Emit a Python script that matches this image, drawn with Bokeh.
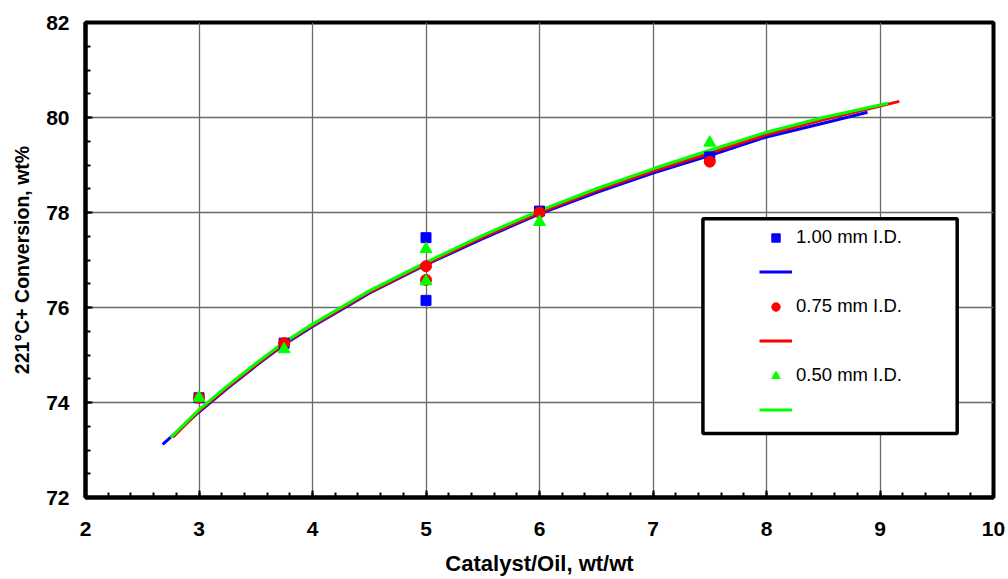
from bokeh.plotting import figure
from bokeh.models import (Range1d, SingleIntervalTicker, Legend, LegendItem,
                          BoxAnnotation)
from bokeh.embed import file_html
from bokeh.resources import INLINE

# ---- data ----
x_title = "Catalyst/Oil, wt/wt"
y_title = "221°C+ Conversion, wt%"

series_labels = ["1.00 mm I.D.", "0.75 mm I.D.", "0.50 mm I.D."]

# measured points
pts_100_x = [3.0, 3.75, 5.0, 5.0, 6.0, 7.5]
pts_100_y = [74.10, 75.25, 77.47, 76.15, 78.03, 79.17]
pts_075_x = [3.0, 3.75, 5.0, 5.0, 6.0, 7.5]
pts_075_y = [74.10, 75.25, 76.87, 76.58, 78.00, 79.07]
pts_050_x = [3.0, 3.75, 5.0, 5.0, 6.0, 7.5]
pts_050_y = [74.10, 75.12, 77.23, 76.55, 77.80, 79.47]

# fitted curves
fit_100_x = [2.68, 3.0, 3.25, 3.5, 3.75, 4.0, 4.25, 4.5, 5.0, 5.5, 6.0, 6.5, 7.0, 7.5, 8.0, 8.5, 8.89]
fit_100_y = [73.12, 73.80, 74.30, 74.77, 75.22, 75.60, 75.95, 76.30, 76.90, 77.45, 77.97, 78.42, 78.83, 79.20, 79.59, 79.88, 80.11]
fit_075_x = [2.77, 3.0, 3.25, 3.5, 3.75, 4.0, 4.25, 4.5, 5.0, 5.5, 6.0, 6.5, 7.0, 7.5, 8.0, 8.5, 9.0, 9.17]
fit_075_y = [73.27, 73.82, 74.32, 74.79, 75.24, 75.62, 75.97, 76.32, 76.92, 77.48, 78.00, 78.46, 78.87, 79.25, 79.64, 79.95, 80.24, 80.34]
fit_050_x = [2.75, 3.0, 3.25, 3.5, 3.75, 4.0, 4.25, 4.5, 5.0, 5.5, 6.0, 6.5, 7.0, 7.5, 8.0, 8.5, 9.07]
fit_050_y = [73.26, 73.85, 74.35, 74.82, 75.27, 75.65, 76.00, 76.35, 76.95, 77.52, 78.04, 78.50, 78.92, 79.31, 79.69, 80.00, 80.30]

x_min, x_max, x_step = 2, 10, 1
y_min, y_max, y_step = 72, 82, 2

# ---- styling ----
FONT = "Liberation Sans"
BLUE, RED, GREEN = "#0000FF", "#FF0000", "#00FF00"

p = figure(width=1008, height=579, output_backend="svg", toolbar_location=None,
           x_range=Range1d(x_min, x_max), y_range=Range1d(y_min, y_max),
           min_border_left=85, min_border_right=15, min_border_top=22,
           min_border_bottom=82)

p.background_fill_color = "white"
p.border_fill_color = "white"
p.outline_line_color = "black"
p.outline_line_width = 4

xt = SingleIntervalTicker(interval=x_step, num_minor_ticks=5)
yt = SingleIntervalTicker(interval=y_step, num_minor_ticks=4)
p.xaxis.ticker = xt
p.yaxis.ticker = yt
p.xgrid.ticker = xt
p.ygrid.ticker = yt
for g in (p.xgrid, p.ygrid):
    g.grid_line_color = "#6a6a6a"
    g.grid_line_width = 1.3

for ax in (p.xaxis, p.yaxis):
    ax.axis_line_color = "black"
    ax.axis_line_width = 4
    ax.major_tick_in = 7
    ax.major_tick_out = 0
    ax.minor_tick_in = 5
    ax.minor_tick_out = 0
    ax.major_tick_line_width = 2
    ax.minor_tick_line_width = 2
    ax.major_tick_line_color = "black"
    ax.minor_tick_line_color = "black"
    ax.major_label_text_font = FONT
    ax.major_label_text_font_style = "bold"
    ax.major_label_text_font_size = "21px"
    ax.major_label_text_color = "black"
    ax.axis_label_text_font = FONT
    ax.axis_label_text_font_style = "bold"
    ax.axis_label_text_color = "black"

p.xaxis.axis_label = x_title
p.yaxis.axis_label = y_title
p.xaxis.axis_label_text_font_size = "22px"
p.yaxis.axis_label_text_font_size = "19.5px"
p.xaxis.major_label_standoff = 24
p.yaxis.major_label_standoff = 16
p.xaxis.axis_label_standoff = 12
p.yaxis.axis_label_standoff = 10

# curves
l_blue = p.line(fit_100_x, fit_100_y, line_color=BLUE, line_width=3)
l_red = p.line(fit_075_x, fit_075_y, line_color=RED, line_width=3)
l_green = p.line(fit_050_x, fit_050_y, line_color=GREEN, line_width=3)

# markers
m_blue = p.scatter(pts_100_x, pts_100_y, marker="square", size=10,
                   fill_color=BLUE, line_color=BLUE)
m_red = p.scatter(pts_075_x, pts_075_y, marker="circle", size=11,
                  fill_color=RED, line_color=RED)
m_green = p.scatter(pts_050_x, pts_050_y, marker="triangle", size=12,
                    fill_color=GREEN, line_color=GREEN)

# legend frame
box = BoxAnnotation(left=7.44, right=9.68, bottom=73.35, top=77.87,
                    fill_color="white", fill_alpha=1.0,
                    line_color="black", line_width=3.5, line_alpha=1.0)
p.add_layout(box)

items = [
    LegendItem(label=series_labels[0], renderers=[m_blue]),
    LegendItem(label=" ", renderers=[l_blue]),
    LegendItem(label=series_labels[1], renderers=[m_red]),
    LegendItem(label=" ", renderers=[l_red]),
    LegendItem(label=series_labels[2], renderers=[m_green]),
    LegendItem(label=" ", renderers=[l_green]),
]
legend = Legend(items=items, location=(674, 77), padding=0, margin=0,
                spacing=13, glyph_width=33, glyph_height=21, label_height=21,
                label_standoff=4, label_text_font=FONT,
                label_text_font_size="18.5px", label_text_color="black",
                border_line_alpha=0, background_fill_alpha=0)
p.add_layout(legend)

open("out.html", "w").write(file_html(p, INLINE))
